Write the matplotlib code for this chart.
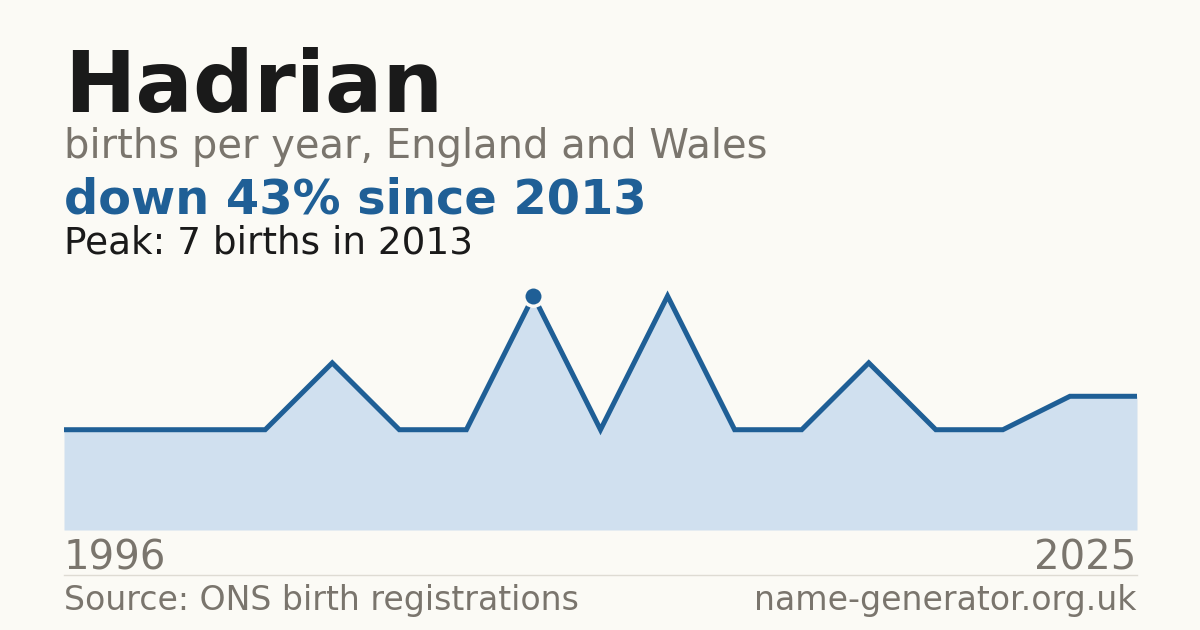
import matplotlib.pyplot as plt
import numpy as np

# Data: births per year (only years with recorded births)
years = [1996, 1998, 2000, 2002, 2004, 2006, 2009, 2013, 2014, 2016, 2017, 2018, 2019, 2020, 2021, 2023, 2025]
births = [3, 3, 3, 3, 5, 3, 3, 7, 3, 7, 3, 3, 5, 3, 3, 4, 4]

name = "Hadrian"
subtitle = "births per year, England and Wales"
headline = "down 43% since 2013"
peak_note = "Peak: 7 births in 2013"
source = "Source: ONS birth registrations"
site = "name-generator.org.uk"

bg = "#fbfaf5"
blue = "#1f5f96"
fill = "#d0e0ef"
grey = "#7a756d"
ink = "#1a1a1a"

W, H = 1200, 630
fig = plt.figure(figsize=(12, 6.3), dpi=100, facecolor=bg)

# plot area in pixels: x 64..1137, y (from top) 296..530
ax = fig.add_axes([64 / W, 1 - 530 / H, (1137 - 64) / W, (530 - 296) / H])
ax.set_facecolor(bg)
x = np.arange(len(births))
ax.fill_between(x, births, 0, color=fill, lw=0)
ax.plot(x, births, color=blue, lw=3.6, solid_joinstyle="miter",
        solid_capstyle="butt", clip_on=False)
pk = int(np.argmax(births))
ax.plot(x[pk], births[pk], "o", ms=14, color=blue, mec=bg, mew=2.5, clip_on=False, zorder=5)
ax.set_xlim(0, len(births) - 1)
ax.set_ylim(0, max(births))
ax.axis("off")

def txt(px, py, s, size, color, weight="normal", ha="left"):
    fig.text(px / W, 1 - py / H, s, fontsize=size, color=color, fontweight=weight,
             ha=ha, va="baseline", family="DejaVu Sans")

txt(64, 112, name, 61.3, ink, "bold")
txt(64, 158, subtitle, 28.8, grey)
txt(64, 214, headline, 34.5, blue, "bold")
txt(64, 253, peak_note, 26.9, ink)

txt(64, 569, str(years[0]), 28.9, grey)
txt(1136, 569, str(years[-1]), 28.9, grey, ha="right")

fig.add_artist(plt.Line2D([64 / W, 1137 / W], [1 - 574.5 / H] * 2, color="#dedbd3", lw=1))

txt(64, 610, source, 23.9, grey)
txt(1136, 610, site, 23.9, grey, ha="right")

fig.savefig("out.png", dpi=100, facecolor=bg)
